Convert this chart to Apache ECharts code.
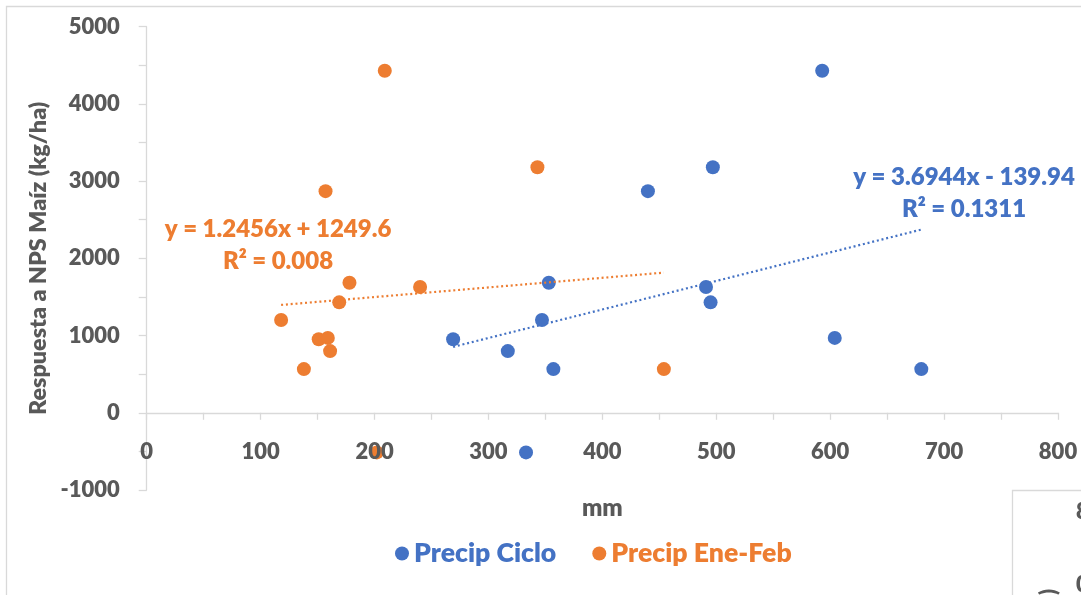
<!DOCTYPE html>
<html>
<head>
<meta charset="utf-8">
<script src="https://cdn.jsdelivr.net/npm/echarts@6/dist/echarts.min.js"></script>
<style>
  html, body { margin: 0; padding: 0; background: #ffffff; }
  #chart { width: 1081px; height: 595px; }
</style>
</head>
<body>
<div id="chart"></div>
<script>
// Precipitation (mm) for each site, for the whole cycle and for Jan–Feb only
const precipCiclo  = [593, 497, 440, 353, 491, 495, 347, 269, 604, 317, 357, 680, 333];
const precipEneFeb = [209, 343, 157, 178, 240, 169, 118, 151, 159, 161, 138, 454, 202];
// Maize yield response to NPS (kg/ha) at the same sites
const respuestaNPS = [4430, 3180, 2870, 1684, 1628, 1430, 1201, 953, 970, 799, 566, 566, -513];

// Linear trend fits: [slope, intercept, R²]
const trendCiclo  = [3.6944, -139.94, 0.1311];
const trendEneFeb = [1.2456, 1249.6, 0.008];

// Axis ticks: [min, max, interval]
const xTicks = [0, 800, 100];
const yTicks = [-1000, 5000, 1000];

const BLUE = '#4472C4';
const ORANGE = '#ED7D31';
const GREY_TEXT = '#595959';
const GREY_LINE = '#d9d9d9';
const FONT = 'Lato';
const W = 800;

const GRID = { left: 146.7, right: 23, top: 26.7, bottom: 105 };
const gridHeight = 595 - GRID.top - GRID.bottom;
// the x axis crosses the value axis at y = 0
const xAxisShift = -gridHeight * (0 - yTicks[0]) / (yTicks[1] - yTicks[0]);

function pairs(xs, ys) { return xs.map((x, i) => [x, ys[i]]); }

function trendLine(xs, fit) {
  const lo = Math.min(...xs), hi = Math.max(...xs);
  return [[lo, fit[0] * lo + fit[1]], [hi, fit[0] * hi + fit[1]]];
}

function equation(fit) {
  const sign = fit[1] < 0 ? ' - ' : ' + ';
  return 'y = ' + fit[0] + 'x' + sign + Math.abs(fit[1]) + '\nR² = ' + fit[2];
}

const chart = echarts.init(document.getElementById('chart'), null, { renderer: 'canvas' });

const axisLineStyle = { color: GREY_LINE, width: 1.3 };
const tickLabel = { fontSize: 22, fontWeight: W, fontFamily: FONT, color: GREY_TEXT,
                    formatter: v => String(v) };

chart.setOption({
  animation: false,
  backgroundColor: '#ffffff',
  textStyle: { fontFamily: FONT, fontWeight: W },
  grid: Object.assign({ containLabel: false }, GRID),
  xAxis: {
    type: 'value',
    position: 'bottom',
    offset: xAxisShift,
    min: xTicks[0], max: xTicks[1], interval: xTicks[2],
    name: 'mm',
    nameLocation: 'middle',
    nameGap: 83,
    nameTextStyle: { fontSize: 24, fontWeight: W, fontFamily: FONT, color: GREY_TEXT },
    axisLine: { show: true, onZero: false, lineStyle: axisLineStyle },
    axisTick: { show: true, inside: false, length: 7, lineStyle: axisLineStyle },
    minorTick: { show: true, splitNumber: 2, length: 7, lineStyle: axisLineStyle },
    splitLine: { show: false },
    minorSplitLine: { show: false },
    axisLabel: Object.assign({ margin: 28 }, tickLabel),
    z: 5
  },
  yAxis: {
    type: 'value',
    min: yTicks[0], max: yTicks[1], interval: yTicks[2],
    name: 'Respuesta a NPS Maíz (kg/ha)',
    nameLocation: 'middle',
    nameRotate: 90,
    nameGap: 86,
    nameTextStyle: { fontSize: 23.3, fontWeight: W, fontFamily: FONT, color: GREY_TEXT },
    axisLine: { show: true, onZero: false, lineStyle: axisLineStyle },
    axisTick: { show: true, inside: false, length: 8, lineStyle: axisLineStyle },
    minorTick: { show: true, splitNumber: 2, length: 8, lineStyle: axisLineStyle },
    splitLine: { show: false },
    minorSplitLine: { show: false },
    axisLabel: Object.assign({ margin: 27 }, tickLabel)
  },
  legend: {
    left: 390, top: 535,
    icon: 'circle',
    itemWidth: 14, itemHeight: 14, itemGap: 36,
    textStyle: { fontSize: 26.6, fontWeight: W, fontFamily: FONT },
    data: [
      { name: 'Precip Ciclo', textStyle: { color: BLUE } },
      { name: 'Precip Ene-Feb', textStyle: { color: ORANGE } }
    ]
  },
  series: [
    {
      name: 'Precip Ciclo', type: 'scatter',
      symbol: 'circle', symbolSize: 14,
      itemStyle: { color: BLUE, opacity: 1 },
      data: pairs(precipCiclo, respuestaNPS),
      z: 2
    },
    {
      name: 'Precip Ene-Feb', type: 'scatter',
      symbol: 'circle', symbolSize: 14,
      itemStyle: { color: ORANGE, opacity: 1 },
      data: pairs(precipEneFeb, respuestaNPS),
      z: 2
    },
    {
      name: 'Lineal (Precip Ciclo)', type: 'line',
      showSymbol: false, silent: true,
      lineStyle: { color: BLUE, width: 2.2, type: [2, 2.8] },
      data: trendLine(precipCiclo, trendCiclo),
      z: 3
    },
    {
      name: 'Lineal (Precip Ene-Feb)', type: 'line',
      showSymbol: false, silent: true,
      lineStyle: { color: ORANGE, width: 2.2, type: [2, 2.8] },
      data: trendLine(precipEneFeb, trendEneFeb),
      z: 3
    }
  ],
  graphic: [
    // chart frame
    { type: 'rect', left: 4, top: 4, z: -10,
      shape: { width: 2000, height: 2000 },
      style: { fill: 'none', stroke: GREY_LINE, lineWidth: 1.3 } },
    // trend equations
    { type: 'text', x: 278, y: 245, z: 10,
      style: { text: equation(trendEneFeb), fill: ORANGE, font: W + ' 24px ' + FONT,
               align: 'center', verticalAlign: 'middle', lineHeight: 32 } },
    { type: 'text', x: 964, y: 193, z: 10,
      style: { text: equation(trendCiclo), fill: BLUE, font: W + ' 24px ' + FONT,
               align: 'center', verticalAlign: 'middle', lineHeight: 32 } },
    // neighbouring panel peeking in at the lower right
    { type: 'group', z: 20, children: [
      { type: 'rect', shape: { x: 1012.5, y: 490.5, width: 200, height: 200 },
        style: { fill: '#ffffff', stroke: GREY_LINE, lineWidth: 1.3 } },
      { type: 'text', x: 1076, y: 512,
        style: { text: '8', fill: GREY_TEXT, font: W + ' 22px ' + FONT, verticalAlign: 'middle' } },
      { type: 'text', x: 1076, y: 585,
        style: { text: '0', fill: GREY_TEXT, font: W + ' 22px ' + FONT, verticalAlign: 'middle' } },
      { type: 'text', x: 1049, y: 592, rotation: Math.PI / 2,
        style: { text: ')', fill: GREY_TEXT, font: W + ' 22px ' + FONT,
                 align: 'center', verticalAlign: 'middle' } }
    ] }
  ]
});
</script>
</body>
</html>
